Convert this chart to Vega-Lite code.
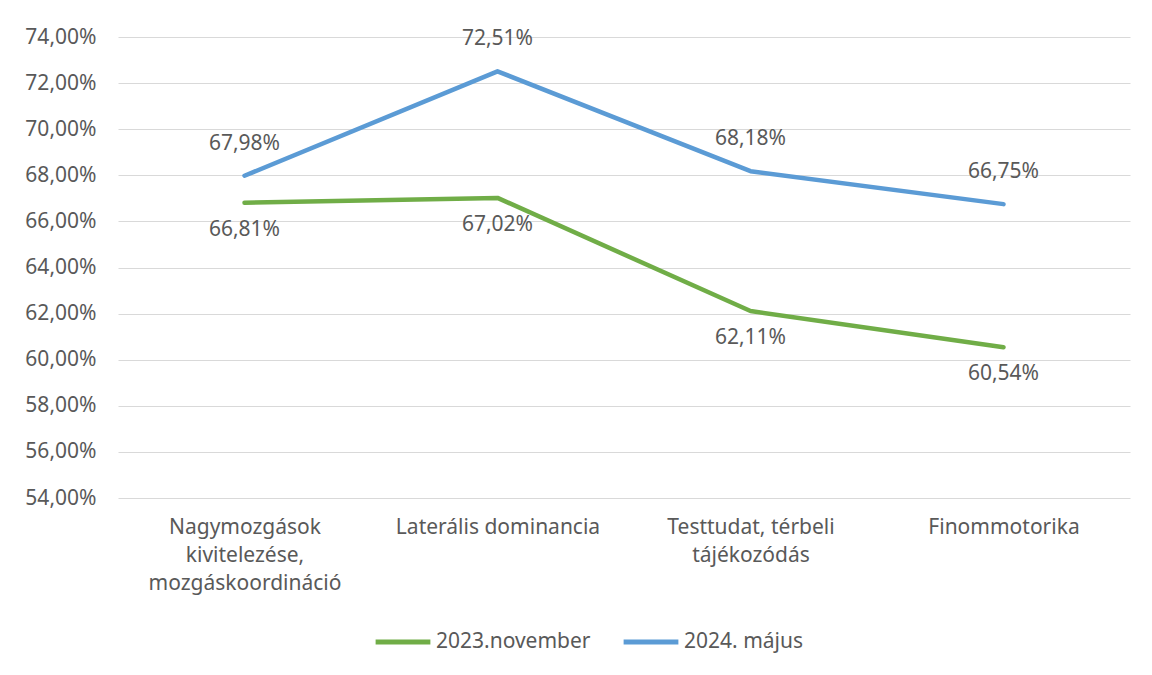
{
  "$schema": "https://vega.github.io/schema/vega-lite/v6.json",
  "width": 1012,
  "height": 461,
  "autosize": {"type": "none"},
  "padding": {"left": 118, "top": 37, "right": 22, "bottom": 177},
  "background": "white",
  "config": {
    "view": {"stroke": null},
    "font": "Noto Sans",
    "locale": {"number": {"decimal": ",", "thousands": " ", "grouping": [3], "currency": ["", " Ft"]}},
    "axis": {"labelFont": "Noto Sans", "labelColor": "#595959", "labelFontSize": 21},
    "legend": {"labelFont": "Noto Sans", "labelColor": "#595959", "labelFontSize": 21}
  },
  "data": {
    "values": [
      {"kategoria": "Nagymozgások kivitelezése, mozgáskoordináció", "idoszak": "2023.november", "ertek": 0.6681},
      {"kategoria": "Laterális dominancia", "idoszak": "2023.november", "ertek": 0.6702},
      {"kategoria": "Testtudat, térbeli tájékozódás", "idoszak": "2023.november", "ertek": 0.6211},
      {"kategoria": "Finommotorika", "idoszak": "2023.november", "ertek": 0.6054},
      {"kategoria": "Nagymozgások kivitelezése, mozgáskoordináció", "idoszak": "2024. május", "ertek": 0.6798},
      {"kategoria": "Laterális dominancia", "idoszak": "2024. május", "ertek": 0.7251},
      {"kategoria": "Testtudat, térbeli tájékozódás", "idoszak": "2024. május", "ertek": 0.6818},
      {"kategoria": "Finommotorika", "idoszak": "2024. május", "ertek": 0.6675}
    ]
  },
  "encoding": {
    "x": {
      "field": "kategoria",
      "type": "nominal",
      "sort": null,
      "scale": {"paddingInner": 0, "paddingOuter": 0},
      "axis": {
        "title": null,
        "domain": false,
        "ticks": false,
        "labelAngle": 0,
        "labelBaseline": "top",
        "labelPadding": 18,
        "labelLineHeight": 28,
        "labelLimit": 300,
        "labelExpr": "datum.label == 'Nagymozgások kivitelezése, mozgáskoordináció' ? ['Nagymozgások', 'kivitelezése,', 'mozgáskoordináció'] : datum.label == 'Testtudat, térbeli tájékozódás' ? ['Testtudat, térbeli', 'tájékozódás'] : datum.label"
      }
    },
    "y": {
      "field": "ertek",
      "type": "quantitative",
      "scale": {"domain": [0.54, 0.74], "nice": false, "zero": false},
      "axis": {
        "title": null,
        "values": [0.54, 0.56, 0.58, 0.60, 0.62, 0.64, 0.66, 0.68, 0.70, 0.72, 0.74],
        "format": ".2%",
        "domain": false,
        "ticks": false,
        "gridColor": "#d9d9d9",
        "gridWidth": 1.2,
        "labelFontSize": 21,
        "labelPadding": 22
      }
    },
    "color": {
      "field": "idoszak",
      "type": "nominal",
      "scale": {"domain": ["2023.november", "2024. május"], "range": ["#70AD47", "#5B9BD5"]},
      "legend": {
        "title": null,
        "orient": "none",
        "legendX": 255,
        "legendY": 575,
        "direction": "horizontal",
        "symbolType": "stroke",
        "symbolSize": 3000,
        "symbolStrokeWidth": 5,
        "columnPadding": 22,
        "labelOffset": 3
      }
    }
  },
  "layer": [
    {
      "mark": {"type": "line", "strokeWidth": 4.5, "strokeCap": "round", "strokeJoin": "round"}
    },
    {
      "transform": [{"filter": "datum.idoszak == '2024. május'"}],
      "mark": {"type": "text", "dy": -32, "baseline": "middle", "fontSize": 21},
      "encoding": {
        "text": {"field": "ertek", "type": "quantitative", "format": ".2%"},
        "color": {"value": "#595959"}
      }
    },
    {
      "transform": [{"filter": "datum.idoszak == '2023.november'"}],
      "mark": {"type": "text", "dy": 27, "baseline": "middle", "fontSize": 21},
      "encoding": {
        "text": {"field": "ertek", "type": "quantitative", "format": ".2%"},
        "color": {"value": "#595959"}
      }
    }
  ]
}
